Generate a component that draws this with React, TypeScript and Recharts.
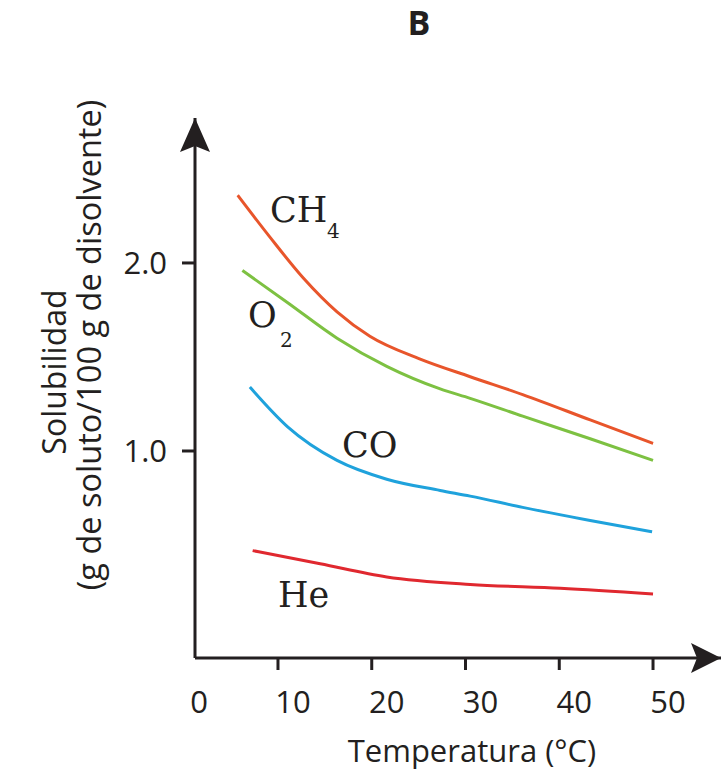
import React from "react";
import { LineChart, Line, XAxis, YAxis, ReferenceDot } from "recharts";

// temperatures (°C) and solubilities (g / 100 g)
const ch4Temp = [5.7, 9.1, 12.7, 16.3, 19.8, 25.1, 30.5, 36.1, 43.3, 50];
const ch4Sol = [2.36, 2.14, 1.92, 1.74, 1.61, 1.49, 1.395, 1.3, 1.165, 1.04];

const o2Temp = [6.2, 11, 16.3, 21.6, 27.3, 30.5, 36.1, 43.3, 50];
const o2Sol = [1.96, 1.79, 1.6, 1.45, 1.33, 1.28, 1.185, 1.065, 0.95];

const coTemp = [7, 11, 16.3, 21.6, 27.3, 30.5, 36.1, 43.3, 49.9];
const coSol = [1.34, 1.13, 0.95, 0.85, 0.79, 0.76, 0.7, 0.63, 0.57];

const heTemp = [7.3, 14.5, 21.6, 30.5, 40.1, 50];
const heSol = [0.47, 0.4, 0.33, 0.29, 0.27, 0.24];

const xTicks = [0, 10, 20, 30, 40, 50];
const yTicks = [1, 2];

const toRows = (t: number[], v: number[]) => t.map((x, i) => ({ t: x, v: v[i] }));

const ink = "#231f20";
const sans = "'Open Sans', sans-serif";
const serif = "'DejaVu Serif', serif";

const X_MIN = 1.15;
const X_MAX = 57.25;
const Y_MIN = -0.101;
const Y_MAX = 2.771;

function XTick({ x, payload }: any) {
  const axisY = 658;
  return (
    <g>
      {payload.value !== 0 && (
        <line x1={x} x2={x} y1={axisY} y2={axisY + 12} stroke={ink} strokeWidth={3} />
      )}
      <text x={x + 15} y={713} textAnchor="middle" fill={ink} fontSize={31} fontFamily={sans}>
        {payload.value}
      </text>
    </g>
  );
}

const rightArrow = ({ cx, cy }: any) => (
  <path d={`M${cx},${cy} L${cx - 30},${cy - 15} L${cx - 24},${cy} L${cx - 30},${cy + 15} Z`} fill={ink} />
);

const upArrow = ({ cx, cy }: any) => (
  <path d={`M${cx},${cy} L${cx - 15},${cy + 34} L${cx},${cy + 28} L${cx + 15},${cy + 34} Z`} fill={ink} />
);

export default function App() {
  return (
    <div style={{ position: "absolute", left: 0, top: 0, background: "#fff" }}>
      <LineChart
        width={721}
        height={772}
        margin={{ top: 118, right: 0, bottom: 0, left: 0 }}
        style={{ fontFamily: sans }}
      >
        <XAxis
          type="number"
          dataKey="t"
          domain={[X_MIN, X_MAX]}
          allowDataOverflow
          ticks={xTicks}
          interval={0}
          height={114}
          tickLine={false}
          axisLine={{ stroke: ink, strokeWidth: 3 }}
          tick={<XTick />}
        />
        <YAxis
          type="number"
          dataKey="v"
          domain={[Y_MIN, Y_MAX]}
          allowDataOverflow
          ticks={yTicks}
          width={195}
          tickSize={13}
          tickMargin={15}
          tickFormatter={(v) => v.toFixed(1)}
          tickLine={{ stroke: ink, strokeWidth: 3 }}
          axisLine={{ stroke: ink, strokeWidth: 3 }}
          tick={{ fill: ink, fontSize: 31, fontFamily: sans }}
        />

        <Line data={toRows(ch4Temp, ch4Sol)} dataKey="v" type="monotone" stroke="#e8552b" strokeWidth={3} dot={false} isAnimationActive={false} />
        <Line data={toRows(o2Temp, o2Sol)} dataKey="v" type="monotone" stroke="#7dc142" strokeWidth={3} dot={false} isAnimationActive={false} />
        <Line data={toRows(coTemp, coSol)} dataKey="v" type="monotone" stroke="#1fa2dc" strokeWidth={3} dot={false} isAnimationActive={false} />
        <Line data={toRows(heTemp, heSol)} dataKey="v" type="monotone" stroke="#e0282f" strokeWidth={3} dot={false} isAnimationActive={false} />

        <ReferenceDot x={X_MAX} y={Y_MIN} r={0} shape={rightArrow} ifOverflow="visible" />
        <ReferenceDot x={X_MIN} y={Y_MAX} r={0} shape={upArrow} ifOverflow="visible" />

        <text x={419} y={35} textAnchor="middle" fontSize={34} fontWeight="bold" fontFamily={sans} fill={ink}>B</text>

        <text x={270} y={222} fontSize={35} fontFamily={serif} fill={ink}>CH</text>
        <text x={327} y={238} fontSize={20} fontFamily={serif} fill={ink}>4</text>
        <text x={248} y={327} fontSize={35} fontFamily={serif} fill={ink}>O</text>
        <text x={280} y={347} fontSize={20} fontFamily={serif} fill={ink}>2</text>
        <text x={342} y={457} fontSize={35} fontFamily={serif} fill={ink}>CO</text>
        <text x={278} y={607} fontSize={35} fontFamily={serif} fill={ink}>He</text>

        <text x={472} y={762} textAnchor="middle" fontSize={31} fontFamily={sans} fill={ink}>Temperatura (°C)</text>
        <text x={66} y={372} transform="rotate(-90 66 372)" textAnchor="middle" fontSize={32} fontFamily={sans} fill={ink}>Solubilidad</text>
        <text x={101} y={345} transform="rotate(-90 101 345)" textAnchor="middle" fontSize={32.5} fontFamily={sans} fill={ink}>(g de soluto/100 g de disolvente)</text>
      </LineChart>
    </div>
  );
}
